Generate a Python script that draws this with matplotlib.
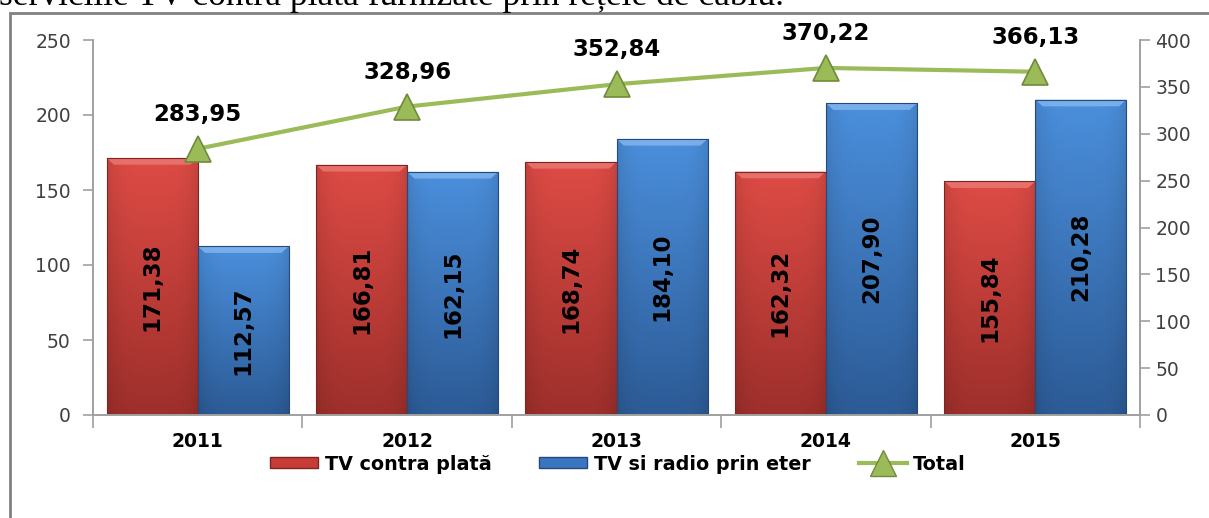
import numpy as np
import matplotlib
matplotlib.use("Agg")
import matplotlib.pyplot as plt
from matplotlib.colors import to_rgb
from matplotlib.patches import Rectangle, Polygon, Patch
from matplotlib.lines import Line2D

years = ["2011", "2012", "2013", "2014", "2015"]
tv_plata = [171.38, 166.81, 168.74, 162.32, 155.84]
tv_eter = [112.57, 162.15, 184.10, 207.90, 210.28]
total = [283.95, 328.96, 352.84, 370.22, 366.13]

plt.rcParams["font.family"] = ["DejaVu Sans"]

RED = ("#de4b45", "#9e2f2b", "#ec7a74", "#7d2522")
BLUE = ("#4b8fdc", "#2c5b96", "#84b8f0", "#24497a")
GREEN = "#9bbb59"


def fmt(v):
    return f"{v:.2f}".replace(".", ",")


def shade_bars(ax, bars, colors):
    top_c, bot_c, bevel_c, edge_c = colors
    t = np.linspace(0, 1, 80)[:, None]
    u = np.linspace(-1, 1, 40)[None, :]
    base = (1 - t)[..., None] * np.array(to_rgb(top_c)) + t[..., None] * np.array(to_rgb(bot_c))
    side = 1 - 0.10 * np.abs(u) ** 4
    img = np.clip(base * side[..., None], 0, 1)
    for b in bars:
        x0, y0, w, h = b.get_x(), b.get_y(), b.get_width(), b.get_height()
        im = ax.imshow(img, extent=(x0, x0 + w, y0, y0 + h), aspect="auto",
                       origin="upper", zorder=2.1, interpolation="bilinear")
        im.set_clip_path(b)
        # bevelled top edge
        bx, by = 0.035, 4.5
        top = y0 + h
        ax.add_patch(Polygon([(x0, top), (x0 + w, top), (x0 + w - bx, top - by),
                              (x0 + bx, top - by)], closed=True,
                             facecolor=bevel_c, edgecolor="none", alpha=0.8, zorder=2.2))
        ax.add_patch(Rectangle((x0, y0), w, h, fill=False, edgecolor=edge_c,
                               lw=0.8, zorder=2.3))


fig = plt.figure(figsize=(12.09, 5.18), dpi=100)
ax = fig.add_axes([93 / 1209, 1 - 415 / 518, (1140 - 93) / 1209, 375 / 518])
ax2 = ax.twinx()

x = np.arange(len(years))
w = 0.435
b1 = ax.bar(x - w / 2, tv_plata, w, color=RED[0], edgecolor="none", zorder=2)
b2 = ax.bar(x + w / 2, tv_eter, w, color=BLUE[0], edgecolor="none", zorder=2)
shade_bars(ax, b1, RED)
shade_bars(ax, b2, BLUE)

for bars, vals in ((b1, tv_plata), (b2, tv_eter)):
    for b, v in zip(bars, vals):
        ax.text(b.get_x() + b.get_width() / 2, v / 2, fmt(v), rotation=90,
                ha="center", va="center", fontsize=16.5, fontweight="bold",
                color="black", zorder=3)

ax2.plot(x, total, color=GREEN, lw=3, marker="^", ms=19, mfc=GREEN,
         mec="#6f8a3c", mew=1.2, zorder=4)
for xi, v in zip(x, total):
    ax2.annotate(fmt(v), (xi, v), xytext=(0, 16.5), textcoords="offset points",
                 ha="center", va="bottom", fontsize=16.5, fontweight="bold")

ax.set_xlim(-0.5, len(years) - 0.5)
ax.set_ylim(0, 250)
ax2.set_ylim(0, 400)
ax.set_yticks(range(0, 251, 50))
ax2.set_yticks(range(0, 401, 50))

gray = "#a0a0a0"
for a in (ax, ax2):
    a.spines["top"].set_visible(False)
    for s in ("left", "right", "bottom"):
        a.spines[s].set_color(gray)
        a.spines[s].set_linewidth(1.2)
    a.tick_params(axis="y", colors=gray, labelcolor="#404040", labelsize=13.5,
                  length=7, width=1.2)
ax.tick_params(axis="y", pad=9)
ax2.tick_params(axis="y", pad=4)

ax.set_xticks(x)
ax.set_xticklabels(years, fontsize=13.5, fontweight="bold")
ax.tick_params(axis="x", length=0, pad=12)
ax.set_xticks(np.arange(-0.5, len(years)), minor=True)
ax.tick_params(axis="x", which="minor", length=9, width=1.2, colors=gray)

handles = [
    Patch(facecolor="#c83c37", edgecolor=RED[3]),
    Patch(facecolor="#3a76c0", edgecolor=BLUE[3]),
    Line2D([], [], color=GREEN, lw=3, marker="^", ms=19, mfc=GREEN, mec="#6f8a3c"),
]
fig.legend(handles, ["TV contra plată", "TV si radio prin eter", "Total"],
           loc="center", bbox_to_anchor=(618 / 1209, 1 - 464 / 518), ncol=3,
           frameon=False, prop={"size": 13.8, "weight": "bold"},
           handlelength=2.5, handleheight=0.55, handletextpad=0.35,
           columnspacing=2.5)

fig.add_artist(Rectangle((10 / 1209, -0.2), 1.5, 1.2 - 13 / 518,
                         transform=fig.transFigure, fill=False,
                         edgecolor="#808080", lw=2, clip_on=False))
fig.text(-0.001, 1 - 5 / 518, "serviciile TV contra plată furnizate prin rețele de cablu.",
         family="Liberation Serif", fontsize=25.5, va="baseline", ha="left")

fig.savefig("out.png", dpi=100)
